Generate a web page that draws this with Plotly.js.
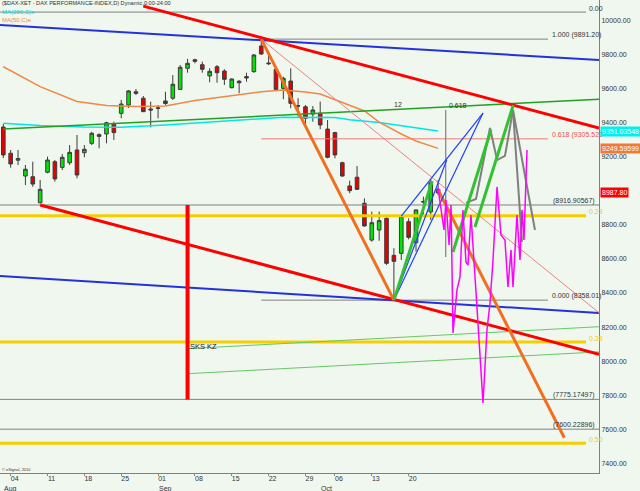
<!DOCTYPE html>
<html><head><meta charset="utf-8">
<script src="https://cdn.plot.ly/plotly-3.0.1.min.js"></script>
<style>html,body{margin:0;padding:0;background:#eff7ee;}#chart{width:640px;height:491px;}</style>
</head><body><div id="chart"></div>
<script>
// ---- trading days (index = x position) ----
const dates = ['2014-08-01','2014-08-04','2014-08-05','2014-08-06','2014-08-07','2014-08-08','2014-08-11','2014-08-12','2014-08-13','2014-08-14','2014-08-15','2014-08-18','2014-08-19','2014-08-20','2014-08-21','2014-08-22','2014-08-25','2014-08-26','2014-08-27','2014-08-28','2014-08-29','2014-09-01','2014-09-02','2014-09-03','2014-09-04','2014-09-05','2014-09-08','2014-09-09','2014-09-10','2014-09-11','2014-09-12','2014-09-15','2014-09-16','2014-09-17','2014-09-18','2014-09-19','2014-09-22','2014-09-23','2014-09-24','2014-09-25','2014-09-26','2014-09-29','2014-09-30','2014-10-01','2014-10-02','2014-10-06','2014-10-07','2014-10-08','2014-10-09','2014-10-10','2014-10-13','2014-10-14','2014-10-15','2014-10-16','2014-10-17','2014-10-20','2014-10-21','2014-10-22','2014-10-23','2014-10-24'];
const open  = [9375,9221,9180,9087,9083,8930,9109,9171,9138,9165,9240,9224,9279,9330,9334,9393,9455,9504,9582,9544,9481,9484,9528,9544,9596,9720,9770,9741,9675,9729,9704,9606,9644,9671,9700,9851,9751,9714,9602,9645,9500,9494,9451,9456,9363,9342,9165,9029,9080,8927,8711,8770,8839,8621,8633,8819,8695,8937,8876,9009];
const high  = [9393,9240,9240,9152,9171,9064,9201,9181,9216,9269,9328,9269,9347,9338,9406,9406,9534,9592,9598,9557,9524,9504,9582,9680,9739,9775,9776,9759,9720,9739,9714,9661,9651,9694,9804,9891,9808,9720,9671,9720,9544,9504,9498,9524,9416,9347,9171,9060,9146,8956,8878,8878,8842,8663,8855,8839,8890,8966,9068,9064];
const low   = [9193,9136,9152,9034,9024,8927,9103,9054,9122,9152,9074,9197,9269,9250,9279,9299,9426,9487,9563,9463,9373,9426,9504,9534,9592,9694,9749,9694,9638,9635,9622,9602,9573,9641,9694,9798,9739,9592,9538,9485,9436,9377,9406,9362,9191,9191,9083,8986,9005,8789,8701,8707,8565,8358,8594,8715,8643,8858,8829,8976];
const close = [9211,9158,9190,9127,9040,9009,9181,9070,9197,9226,9093,9244,9338,9320,9400,9342,9510,9587,9573,9465,9475,9487,9513,9626,9726,9749,9761,9714,9702,9694,9655,9657,9635,9663,9798,9804,9747,9596,9661,9514,9498,9426,9475,9387,9197,9211,9087,9001,9009,8794,8813,8825,8574,8586,8852,8727,8888,8935,9048,8988];

// moving averages (read at selected days)
const ma50Idx  = [0,5,10,14,18,22,26,31,35,38,41,43,46,49,51,54,56,59];
const ma50     = [9729,9612,9525,9501,9495,9498,9531,9557,9582,9592,9581,9569,9519,9469,9404,9334,9293,9249.6];
const ma200Idx = [0,5,11,16,22,29,35,38,45,47,51,55,59];
const ma200    = [9397,9384,9375,9373,9387,9407,9426,9432,9431,9417,9401,9378,9351.0];

// axis ticks
const tickDates = ['2014-08-04','2014-08-11','2014-08-18','2014-08-25','2014-09-01','2014-09-08','2014-09-15','2014-09-22','2014-09-29','2014-10-06','2014-10-13','2014-10-20'];
const tickText  = ['04','11','18','25','01','08','15','22','29','06','13','20'];
const monthStarts = ['2014-08-01','2014-09-01','2014-10-01'];
const monthText   = ['Aug','Sep','Oct'];
const yTicks = [7400,7600,7800,8000,8200,8400,8600,8800,9200,9400,9600,9800,10000];

// x range in trading-day units
const xLeft = -0.448, xRight = 80.83;

// Fibonacci levels
const fibALevels = [10050, 8854, 8112, 7517];
const fibALabels = ['0.00','0.23','0.38','0.50'];
const fibBLevels = [9891.20, 9305.52, 8358.01];
const fibBLabels = ['1.000 (9891.20)','0.618 (9305.521','0.000 (8358.01)'];
const fullLevels = [8916.90567, 7775.17497, 7600.22896];
const fullLabels = ['(8916.90567)','(7775.17497)','(7600.22896)'];

// trend lines (x in trading-day index, y in index points)
const redUpperX = [19, 80.83], redUpperY = [10085, 9369];
const redLowerX = [5, 80.83],  redLowerY = [8917, 8040];
const redVertX  = [25, 25],    redVertY  = [8917, 7775];
const blueUpperX = [xLeft, xRight], blueUpperY = [9974, 9769];
const blueLowerX = [xLeft, xRight], blueLowerY = [8500, 8283];
const greenTrendX = [0, 80.83], greenTrendY = [9363, 9538];
const ltGreenAX = [25, 80.83], ltGreenAY = [8073, 8202];
const ltGreenBX = [25, 80.83], ltGreenBY = [7926, 8054];
const pinkDiagX = [35, 80.83], pinkDiagY = [9891, 8284];
const orange1X = [35, 53], orange1Y = [9891, 8358];
const orange2X = [59, 76.12], orange2Y = [9005, 7550];
const blueQX = [53, 65.09], blueQY = [8358, 9457];
const bluePX = [54, 65.09], bluePY = [8852, 9457];
const blueRX = [53, 60.16], blueRY = [8358, 9181];
const green1X = [53, 58.2], green1Y = [8358, 9058];
const green2X = [61.02, 66.17], green2Y = [8641, 9357];
const green3X = [64.0, 69.2], green3Y = [8788, 9504];
const grayProjX = [62.78,64.14,66.04,67.0,68.07,69.16,72.14];
const grayProjY = [8929,8952,9369,9181,9205,9475,8770];
const grayProj2X = [69.16,70.38], grayProj2Y = [9475,8700];
const vertX = [60.03,60.03], vertY = [9475,8611];
const magX = [58.98,59.39,59.80,60.07,60.48,60.75,61.02,61.56,61.97,62.37,62.78,63.05,63.46,64.27,65.09,65.63,66.04,66.45,66.99,67.53,68.07,68.48,68.89,69.16,69.70,70.11,70.38,70.65,71.06];
const magY = [9017,8905,8770,8946,8682,8917,8165,8418,8494,8888,8582,8564,8858,8318,7754,8183,8341,8594,9023,8741,8711,8435,8653,8435,8858,8594,8888,8711,9240];

const lastClose = close[close.length-1];
const lastMA50 = ma50[ma50.length-1];
const lastMA200 = 9351.03548;

// ---- build ----
const idx = dates.map((d,i)=>i);
const traces = [];
traces.push({type:'candlestick', x:idx, open, high, low, close,
  increasing:{fillcolor:'#00e400', line:{color:'#3c3c3c', width:1}},
  decreasing:{fillcolor:'#e80000', line:{color:'#3c3c3c', width:1}},
  whiskerwidth:0, hoverinfo:'skip', showlegend:false});
function seg(x, y, color, width){
  traces.push({type:'scatter', mode:'lines', x, y, line:{color, width}, hoverinfo:'skip', showlegend:false});
}
const xA0 = xLeft, xA1 = 79.07, xB0 = 35, xB1 = 73.9;
fibALevels.forEach((v,i)=> seg([xA0,xA1],[v,v], i===0?'#808080':'#f5cf00', i===0?1:3));
fibBLevels.forEach((v,i)=> seg([xB0,xB1],[v,v], i===1?'#f07878':'#808080', 1));
fullLevels.forEach(v=> seg([xLeft,xRight],[v,v],'#808080',1));

seg(ma200Idx.map(i=>i), ma200, '#00e6e6', 1.5);
seg(ma50Idx.map(i=>i), ma50, '#f08848', 1.5);
seg(greenTrendX, greenTrendY, '#22a022', 1.5);
seg(ltGreenAX, ltGreenAY, '#66c866', 1);
seg(ltGreenBX, ltGreenBY, '#66c866', 1);
seg(blueUpperX, blueUpperY, '#2233dd', 2);
seg(blueLowerX, blueLowerY, '#2233dd', 2);
seg(pinkDiagX, pinkDiagY, '#f08080', 1);
seg(redUpperX, redUpperY, '#ff0000', 3);
seg(redLowerX, redLowerY, '#ff0000', 3);
seg(redVertX, redVertY, '#ff0000', 4);
seg(orange1X, orange1Y, '#f07020', 3);
seg(orange2X, orange2Y, '#f07020', 3);
seg(vertX, vertY, '#808080', 1.2);
seg(blueQX, blueQY, '#2040ff', 1.2);
seg(bluePX, bluePY, '#2040ff', 1.2);
seg(blueRX, blueRY, '#2040ff', 1.2);
seg(grayProjX, grayProjY, '#808080', 2);
seg(grayProj2X, grayProj2Y, '#808080', 2);
seg(green1X, green1Y, '#33c033', 3);
seg(green2X, green2Y, '#33c033', 3);
seg(green3X, green3Y, '#33c033', 3);
seg(magX, magY, '#ff00ff', 1.5);

const F = 'Liberation Sans, Arial, sans-serif';
const ann = [];
// title & legend
ann.push({xref:'paper', yref:'paper', x:0, y:1, xanchor:'left', yanchor:'top', yshift:2, showarrow:false,
  text:'($DAX-XET - DAX PERFORMANCE-INDEX,D) Dynamic,0:00-24:00', font:{family:F, size:5.6, color:'#333'}});
ann.push({xref:'paper', yref:'paper', x:0, y:1, xanchor:'left', yanchor:'middle', yshift:-12, showarrow:false,
  text:'MA(200,C)e', font:{family:F, size:6, color:'#00d6d6'}});
ann.push({xref:'paper', yref:'paper', x:0, y:1, xanchor:'left', yanchor:'middle', yshift:-20, showarrow:false,
  text:'MA(50,C)e', font:{family:F, size:6, color:'#f08848'}});
// fib labels
fibALevels.forEach((v,i)=> ann.push({xref:'paper', yref:'y', x:587/599, y:v, xanchor:'left', yanchor:'middle', yshift:4, showarrow:false,
  text:fibALabels[i], font:{family:F, size:7, color: i===0?'#333':'#f5cf00'}}));
fibBLevels.forEach((v,i)=> ann.push({xref:'paper', yref:'y', x:550/599, y:v, xanchor:'left', yanchor:'middle', yshift:4, showarrow:false,
  text:fibBLabels[i], font:{family:F, size:7, color: i===1?'#f05050':'#333'}}));
fullLevels.forEach((v,i)=> ann.push({xref:'paper', yref:'y', x:551/599, y:v, xanchor:'left', yanchor:'middle', yshift:4, showarrow:false,
  text:fullLabels[i], font:{family:F, size:7, color:'#333'}}));
// right boxes
[[lastMA200,'9351.03548','#00f0f0'],[lastMA50,'9249.59599','#f07838'],[lastClose,'8987.80','#ff0000']].forEach(b=>
  ann.push({xref:'paper', yref:'y', x:1, y:b[0], xanchor:'left', yanchor:'middle', xshift:1, showarrow:false, text:b[1],
    bgcolor:b[2], borderpad:1, font:{family:F, size:7, color:'#ffffff'}}));
// chart notes
ann.push({xref:'x', yref:'y', x:27.1, y:8083, showarrow:false, text:'SKS KZ', font:{family:F, size:7.5, color:'#222'}});
ann.push({xref:'x', yref:'y', x:53.6, y:9510, showarrow:false, text:'12', font:{family:F, size:7, color:'#333'}});
ann.push({xref:'x', yref:'y', x:61.7, y:9504, showarrow:false, text:'0.618', font:{family:F, size:7, color:'#333'}});
ann.push({xref:'paper', yref:'paper', x:0, y:0, xanchor:'left', yanchor:'middle', yshift:4, showarrow:false,
  text:'© eSignal, 2010', font:{family:F, size:4, color:'#333'}});
// month labels
monthStarts.forEach((d,i)=> ann.push({xref:'x', yref:'paper', x:dates.indexOf(d), y:0, xanchor:'left', yanchor:'middle', yshift:-15.5, xshift:-1, showarrow:false,
  text:monthText[i], font:{family:F, size:7, color:'#333'}}));

const layout = {
  width:640, height:491, margin:{l:0, r:41, t:0, b:18, pad:0},
  paper_bgcolor:'#eff7ee', plot_bgcolor:'#eff7ee', showlegend:false,
  xaxis:{type:'linear', range:[xLeft, xRight], tickvals:tickDates.map(d=>dates.indexOf(d)), ticktext:tickText,
    ticks:'outside', ticklen:2, tickcolor:'#888', showline:true, linecolor:'#808080', linewidth:1,
    showgrid:false, zeroline:false, ticklabelshift:4, ticklabelstandoff:-3, tickfont:{family:F, size:7, color:'#333'},
    rangeslider:{visible:false}, fixedrange:true},
  yaxis:{side:'right', range:[7342.7, 10121], tickvals:yTicks, ticktext:yTicks.map(v=>v.toFixed(2)),
    ticks:'', showline:true, linecolor:'#808080', linewidth:1, showgrid:false, zeroline:false,
    tickfont:{family:F, size:7, color:'#333'}, fixedrange:true},
  annotations:ann
};
Plotly.newPlot('chart', traces, layout, {displayModeBar:false, staticPlot:true});
</script></body></html>
